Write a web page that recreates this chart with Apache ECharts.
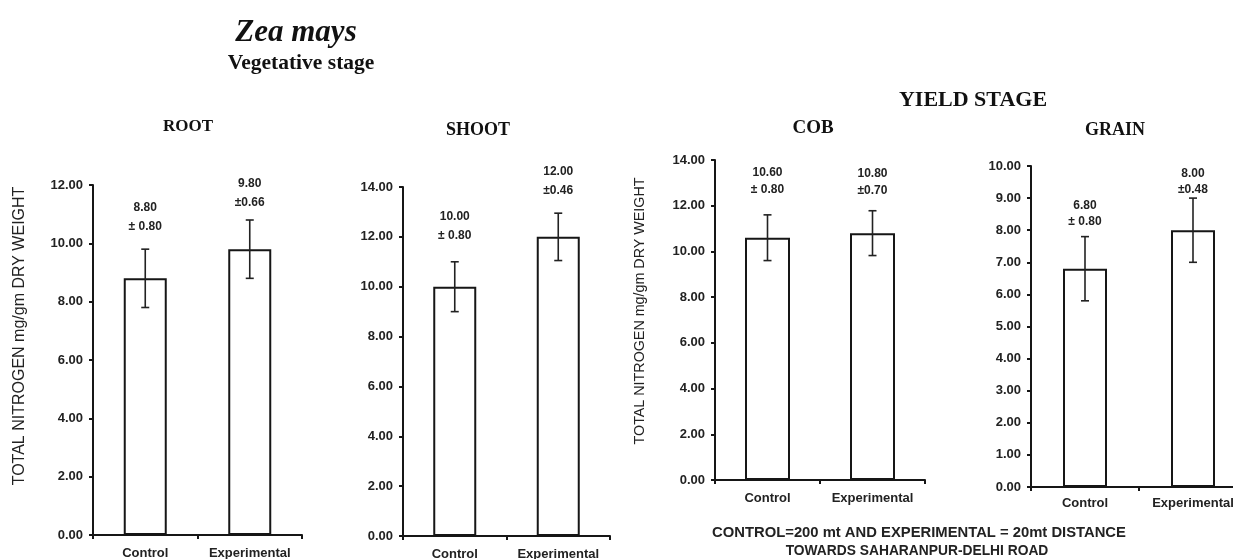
<!DOCTYPE html>
<html><head><meta charset="utf-8">
<script src="https://cdn.jsdelivr.net/npm/echarts@6/dist/echarts.min.js"></script>
<style>html,body{margin:0;padding:0;background:#fff;overflow:hidden;} #c{width:1233px;height:559px;}</style>
</head><body><div id="c"></div>
<script>
// ---- data ----
const categories = ['Control', 'Experimental'];
const rootMeans = [8.80, 9.80];
const rootSE = ['0.80', '0.66'];
const rootBarErr = [1.0, 1.0];
const shootMeans = [10.00, 12.00];
const shootSE = ['0.80', '0.46'];
const shootBarErr = [1.0, 0.95];
const cobMeans = [10.60, 10.80];
const cobSE = ['0.80', '0.70'];
const cobBarErr = [1.0, 0.98];
const grainMeans = [6.80, 8.00];
const grainSE = ['0.80', '0.48'];
const grainBarErr = [1.0, 1.0];
const rootAxisMax = 12, shootAxisMax = 14, cobAxisMax = 14, grainAxisMax = 10;
const rootStep = 2, shootStep = 2, cobStep = 2, grainStep = 1;
const yName = 'TOTAL NITROGEN mg/gm DRY WEIGHT';
const mainTitle = 'Zea mays';
const vegTitle = 'Vegetative stage';
const yieldTitle = 'YIELD STAGE';
const noteLines = ['CONTROL=200 mt AND EXPERIMENTAL = 20mt DISTANCE', 'TOWARDS SAHARANPUR-DELHI ROAD'];

// ---- layout / style ----
const SANS = '"Liberation Sans", Arial, sans-serif';
const SERIF = '"Liberation Serif", "Times New Roman", serif';
const INK = '#161616';
const panels = [
  {name: 'ROOT', means: rootMeans, se: rootSE, err: rootBarErr, max: rootAxisMax, step: rootStep,
   grid: {left: 93, top: 185, width: 209, height: 350}, bw: 43, title: [188, 127], ts: 17, gap: [22, 17], lh: 19, xm: 12},
  {name: 'SHOOT', means: shootMeans, se: shootSE, err: shootBarErr, max: shootAxisMax, step: shootStep,
   grid: {left: 403, top: 187, width: 207, height: 349}, bw: 43, title: [478, 130], ts: 18, gap: [26, 22], lh: 19, xm: 12},
  {name: 'COB', means: cobMeans, se: cobSE, err: cobBarErr, max: cobAxisMax, step: cobStep,
   grid: {left: 715, top: 160, width: 210, height: 320}, bw: 45, title: [813, 128], ts: 19, gap: [25, 20], lh: 17, xm: 12},
  {name: 'GRAIN', means: grainMeans, se: grainSE, err: grainBarErr, max: grainAxisMax, step: grainStep,
   grid: {left: 1031, top: 166, width: 216, height: 321}, bw: 44, title: [1115, 130], ts: 18, gap: [15, 8], lh: 16, xm: 10}
];

const grids = [], xAxes = [], yAxes = [], series = [];
const graphics = [];
panels.forEach((p, k) => {
  grids.push(Object.assign({containLabel: false, outerBoundsMode: 'none'}, p.grid));
  xAxes.push({
    type: 'category', gridIndex: k, data: categories,
    axisLine: {lineStyle: {color: INK, width: 2}},
    axisTick: {show: true, length: 4, lineStyle: {color: INK, width: 2}},
    axisLabel: {interval: 0, hideOverlap: false, color: '#222', fontFamily: SANS, fontWeight: 'bold', fontSize: 13, margin: p.xm}
  });
  yAxes.push({
    type: 'value', gridIndex: k, min: 0, max: p.max, interval: p.step,
    axisLine: {show: true, lineStyle: {color: INK, width: 2}},
    axisTick: {show: true, length: 4, lineStyle: {color: INK, width: 2}},
    splitLine: {show: false},
    axisLabel: {color: '#222', fontFamily: SANS, fontWeight: 'bold', fontSize: 13, margin: 10,
      formatter: v => v.toFixed(2)}
  });
  series.push({
    type: 'bar', xAxisIndex: k, yAxisIndex: k, data: p.means, barWidth: p.bw,
    itemStyle: {color: '#fff', borderColor: INK, borderWidth: 2}, silent: true, z: 2
  });
  const ed = p.means.map((m, i) => [i, m, p.err[i]]);
  series.push({
    type: 'custom', xAxisIndex: k, yAxisIndex: k, data: ed, z: 5, silent: true,
    renderItem: (params, api) => {
      const i = params.dataIndex;
      const c = api.value(0), m = api.value(1), e = api.value(2);
      const top = api.coord([c, m + e]);
      const bot = api.coord([c, m - e]);
      const x = top[0];
      const cap = 4;
      const ls = {stroke: '#222', lineWidth: 1.6};
      const seTxt = (i === 0 ? '\u00b1 ' : '\u00b1') + p.se[i];
      return {type: 'group', children: [
        {type: 'line', shape: {x1: x, y1: top[1], x2: x, y2: bot[1]}, style: ls},
        {type: 'line', shape: {x1: x - cap, y1: top[1], x2: x + cap, y2: top[1]}, style: ls},
        {type: 'line', shape: {x1: x - cap, y1: bot[1], x2: x + cap, y2: bot[1]}, style: ls},
        {type: 'text', x: x, y: top[1] - p.gap[i] + p.lh / 2, style: {
          text: m.toFixed(2) + '\n' + seTxt, align: 'center', verticalAlign: 'bottom',
          fontFamily: SANS, fontWeight: 'bold', fontSize: 12, lineHeight: p.lh, fill: '#222'}}
      ]};
    }
  });
  graphics.push({type: 'text', x: p.title[0], y: p.title[1], style: {
    text: p.name, align: 'center', verticalAlign: 'middle',
    font: 'bold ' + p.ts + 'px ' + SERIF, fill: '#111'}});
});

graphics.push(
  {type: 'text', x: 296, y: 33, style: {text: mainTitle, align: 'center', verticalAlign: 'middle',
    font: 'italic bold 31px ' + SERIF, fill: '#111'}},
  {type: 'text', x: 301, y: 63, style: {text: vegTitle, align: 'center', verticalAlign: 'middle',
    font: 'bold 21.5px ' + SERIF, fill: '#111'}},
  {type: 'text', x: 973, y: 100, style: {text: yieldTitle, align: 'center', verticalAlign: 'middle',
    font: 'bold 22px ' + SERIF, fill: '#111'}},
  {type: 'text', x: 20, y: 336, rotation: Math.PI / 2, style: {text: yName, align: 'center', verticalAlign: 'middle',
    font: '16px ' + SANS, fill: '#222'}},
  {type: 'text', x: 640, y: 311, rotation: Math.PI / 2, style: {text: yName, align: 'center', verticalAlign: 'middle',
    font: '14.3px ' + SANS, fill: '#222'}},
  {type: 'text', x: 919, y: 533, style: {text: noteLines[0], align: 'center', verticalAlign: 'middle',
    font: 'bold 14.8px ' + SANS, fill: '#222'}},
  {type: 'text', x: 917, y: 551, style: {text: noteLines[1], align: 'center', verticalAlign: 'middle',
    font: 'bold 13.8px ' + SANS, fill: '#222'}}
);

const chart = echarts.init(document.getElementById('c'), null, {renderer: 'canvas'});
chart.setOption({
  animation: false,
  backgroundColor: '#fff',
  grid: grids, xAxis: xAxes, yAxis: yAxes, series: series,
  graphic: graphics
});
</script>
</body></html>
